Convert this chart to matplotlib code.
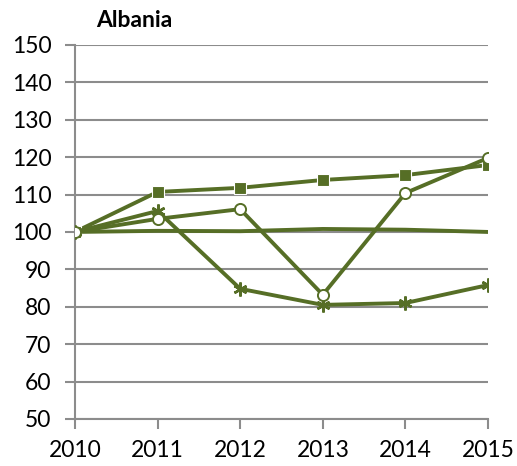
import matplotlib
matplotlib.use("Agg")
import matplotlib.pyplot as plt

years = [2010, 2011, 2012, 2013, 2014, 2015]
flat_line = [100.0, 100.3, 100.2, 100.8, 100.6, 100.0]
squares = [100.0, 110.7, 111.8, 113.9, 115.2, 117.9]
circles = [100.0, 103.5, 106.1, 83.2, 110.4, 119.8]
stars = [100.0, 105.6, 84.8, 80.5, 81.0, 85.8]

COLOR = "#566E26"
GRID = "#8C8C8C"

plt.rcParams["font.family"] = ["Lato", "DejaVu Sans"]

fig = plt.figure(figsize=(5.17, 4.66), dpi=100)
ax = fig.add_axes([0.145, 0.101, 0.799, 0.8025])

LW = 2.8
ax.plot(years, flat_line, color=COLOR, lw=LW, zorder=3)
ax.plot(years, squares, color=COLOR, lw=LW, marker="s", ms=8,
        mfc=COLOR, mec="white", mew=0.8, zorder=4)
ax.plot(years, stars, color=COLOR, lw=LW, marker=(6, 2, 0), ms=10,
        mec=COLOR, mew=1.8, zorder=4)
ax.plot(years, circles, color=COLOR, lw=LW, marker="o", ms=8,
        mfc="white", mec=COLOR, mew=1.4, zorder=5)

ax.set_xlim(2010, 2015)
ax.set_ylim(50, 150)
ax.set_yticks(range(50, 151, 10))
ax.set_xticks(years)
ax.grid(axis="y", color=GRID, lw=1.5)
ax.set_axisbelow(True)

for side in ["top", "right"]:
    ax.spines[side].set_visible(False)
for side in ["left", "bottom"]:
    ax.spines[side].set_color(GRID)
    ax.spines[side].set_linewidth(1.5)
ax.tick_params(axis="both", colors=GRID, length=7, width=1.5,
               labelcolor="black", labelsize=16.5)
ax.tick_params(axis="y", pad=10)
ax.tick_params(axis="x", pad=8)
for lbl in ax.get_yticklabels() + ax.get_xticklabels():
    lbl.set_clip_on(False)

fig.text(0.186, 0.957, "Albania", fontsize=16.5, fontweight="bold",
         ha="left", va="center")

fig.savefig("out.png", dpi=100)
